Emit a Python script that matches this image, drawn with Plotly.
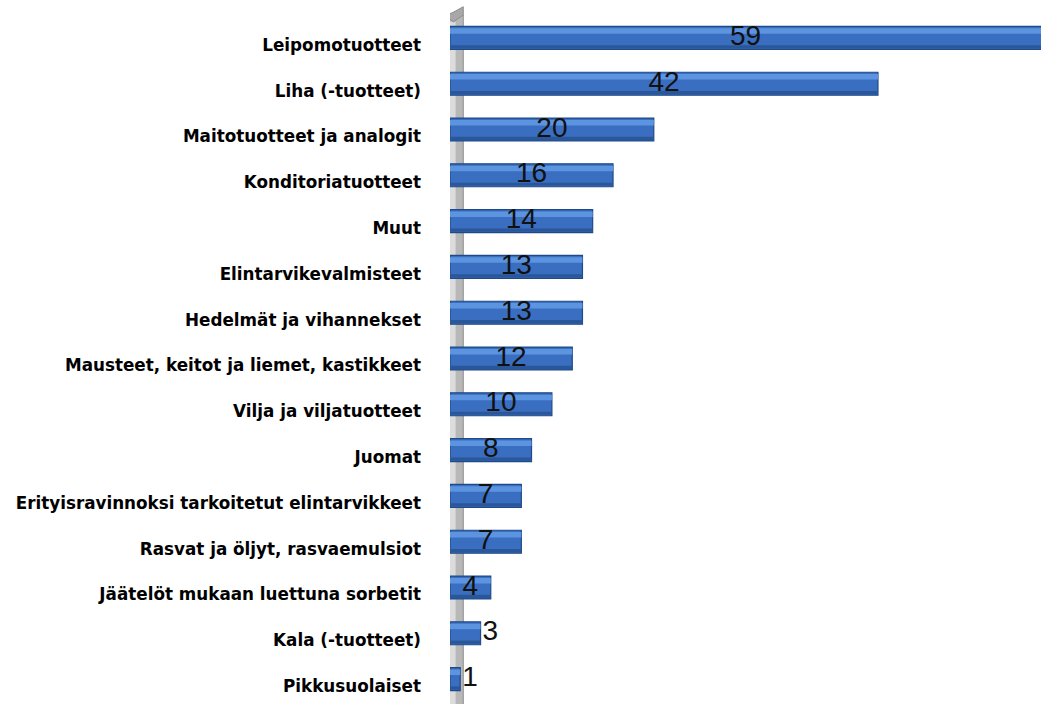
import plotly.graph_objects as go

categories = [
    "Leipomotuotteet",
    "Liha (-tuotteet)",
    "Maitotuotteet ja analogit",
    "Konditoriatuotteet",
    "Muut",
    "Elintarvikevalmisteet",
    "Hedelmät ja vihannekset",
    "Mausteet, keitot ja liemet, kastikkeet",
    "Vilja ja viljatuotteet",
    "Juomat",
    "Erityisravinnoksi tarkoitetut elintarvikkeet",
    "Rasvat ja öljyt, rasvaemulsiot",
    "Jäätelöt mukaan luettuna sorbetit",
    "Kala (-tuotteet)",
    "Pikkusuolaiset",
]
values = [59, 42, 20, 16, 14, 13, 13, 12, 10, 8, 7, 7, 4, 3, 1]

x_max = 58.0

# label positions: centre of the visible bar, small bars get the label outside
inside = [v >= 4 for v in values]
text_x = [min(v, x_max) / 2 if ins else v + 0.2 for v, ins in zip(values, inside)]
text_pos = ["middle center" if ins else "middle right" for ins in inside]

fig = go.Figure()

# main bar body
fig.add_trace(go.Bar(
    y=categories, x=values, orientation="h",
    width=0.5,
    marker=dict(color="#3a6ec0", line=dict(color="#1f4a88", width=1.2)),
    hoverinfo="skip", showlegend=False))

# light top stripe for the bevelled look
fig.add_trace(go.Bar(
    y=categories, x=values, orientation="h",
    width=0.12, offset=-0.21,
    marker=dict(color="#5d94e0", line=dict(width=0)),
    hoverinfo="skip", showlegend=False))

# dark lower edge
fig.add_trace(go.Bar(
    y=categories, x=values, orientation="h",
    width=0.07, offset=0.16,
    marker=dict(color="#2a5799", line=dict(width=0)),
    hoverinfo="skip", showlegend=False))

fig.add_trace(go.Scatter(
    y=categories, x=text_x, mode="text",
    text=[str(v) for v in values], textposition=text_pos,
    textfont=dict(family="Liberation Sans", size=28, color="#111111"),
    cliponaxis=False, hoverinfo="skip", showlegend=False))

# grey wall on the left
fig.add_shape(type="rect", xref="x", yref="paper",
              x0=-0.65, x1=1.3, y0=-0.02, y1=1.0,
              fillcolor="#b8b8b8", line=dict(color="#8c8c8c", width=1),
              layer="below")
fig.add_shape(type="rect", xref="x", yref="paper",
              x0=-0.25, x1=0.55, y0=-0.02, y1=0.99,
              fillcolor="#dcdcdc", line=dict(width=0),
              layer="below")
# slanted cap on top of the wall
fig.add_shape(type="path", xref="x", yref="paper",
              path="M -0.65 1.0 L 0.2 1.003 L 1.3 1.012 L 1.3 1.0 L 0.35 0.99 Z",
              fillcolor="#a8a8a8", line=dict(color="#8c8c8c", width=1),
              layer="below")

fig.update_layout(
    width=1041, height=704,
    margin=dict(l=450, r=0, t=15, b=2),
    paper_bgcolor="white", plot_bgcolor="white",
    barmode="overlay",
    bargap=0.5,
    xaxis=dict(range=[0, x_max], visible=False, showgrid=False, zeroline=False,
               automargin=False),
    yaxis=dict(
        categoryorder="array", categoryarray=categories,
        range=[14.5, -0.5], automargin=False,
        showgrid=False, zeroline=False, showline=False,
        ticks="", ticklabelstandoff=28, ticklabelshift=-7,
        tickfont=dict(family="DejaVu Sans", size=16.8, color="#000000", weight="bold"),
    ),
)

fig.write_html("out.html", config={"displayModeBar": False},
               post_script="document.body.style.margin='0';")
